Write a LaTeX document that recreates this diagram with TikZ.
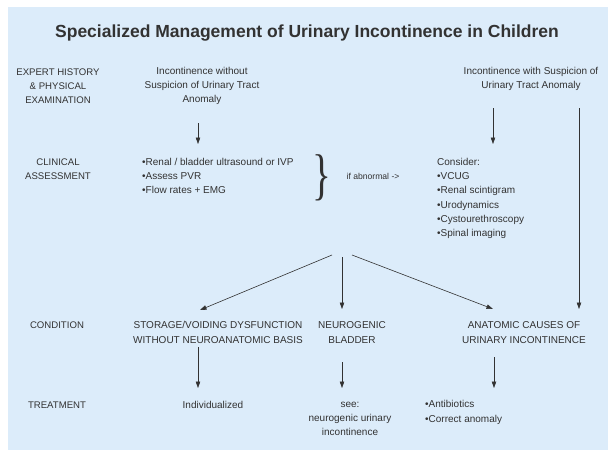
\documentclass[tikz,border=0pt]{standalone}
\usepackage{fontspec}
\setmainfont{Liberation Sans}
\newfontfamily\bracefont{Liberation Serif}
\usetikzlibrary{arrows.meta}
\definecolor{bg}{RGB}{220,236,250}
\definecolor{ink}{RGB}{50,50,50}
\begin{document}
\begin{tikzpicture}[x=1pt,y=-1pt,
  txt/.style={font=\fontsize{10}{14.3}\selectfont, text=ink, inner sep=0pt, align=center},
  lab/.style={font=\fontsize{9.6}{14.3}\selectfont, text=ink, inner sep=0pt, align=center},
  arr/.style={draw=ink, line width=0.6pt, -{Triangle[length=6.5pt,width=4.5pt]}},
  ln/.style={draw=ink, line width=0.6pt}]
\useasboundingbox (0,0) rectangle (608,452);
\fill[bg] (8,7) rectangle (608,450);
% title
\node[inner sep=0pt, text=ink, font=\bfseries\fontsize{17.5}{20}\selectfont] (title) at (307,33)
  {Specialized Management of Urinary Incontinence in Children};
% row labels
\node[lab] (expert) at (58,86) {EXPERT HISTORY\\\& PHYSICAL\\EXAMINATION};
\node[lab] (clin) at (58,169) {CLINICAL\\ASSESSMENT};
\node[lab] (cond) at (57,325) {CONDITION};
\node[lab] (treat) at (57,405) {TREATMENT};
% row 1
\node[txt] (without) at (202,86) {Incontinence without\\Suspicion of Urinary Tract\\Anomaly};
\node[txt] (with) at (531,79) {Incontinence with Suspicion of\\Urinary Tract Anomaly};
% row 2
\node[txt, align=left, anchor=west] (assess) at (142,176)
  {•Renal / bladder ultrasound or IVP\\•Assess PVR\\•Flow rates + EMG};
\node[inner sep=0pt, text=ink, xscale=0.7] (brace) at (322,178) {\bracefont\fontsize{56}{56}\selectfont\}};
\node[txt, font=\fontsize{8.6}{12}\selectfont] (ifab) at (373,176) {if abnormal ->};
\node[txt, align=left, anchor=west] (consider) at (437,198.5)
  {Consider:\\•VCUG\\•Renal scintigram\\•Urodynamics\\•Cystourethroscopy\\•Spinal imaging};
% row 3
\node[txt] (storage) at (218,332.5) {STORAGE/VOIDING DYSFUNCTION\\WITHOUT NEUROANATOMIC BASIS};
\node[txt] (neuro) at (352,332.5) {NEUROGENIC\\BLADDER};
\node[txt] (anat) at (524,332.5) {ANATOMIC CAUSES OF\\URINARY INCONTINENCE};
% row 4
\node[txt] (indiv) at (213,405) {Individualized};
\node[txt] (see) at (350,419) {see:\\neurogenic urinary\\incontinence};
\node[txt, align=left, anchor=west] (abx) at (425,412.5) {•Antibiotics\\•Correct anomaly};
% connector end points
\coordinate (w1) at (198,123); \coordinate (w2) at (198,144);
\coordinate (s1) at (493,108); \coordinate (s2) at (493,144);
\coordinate (l1) at (579,108); \coordinate (l2) at (579,309);
\coordinate (fl) at (332,255); \coordinate (fm) at (342,257); \coordinate (fr) at (352,255);
\coordinate (tl) at (200,310); \coordinate (tm) at (342,309); \coordinate (tr) at (493,309);
\coordinate (d1a) at (198,347); \coordinate (d1b) at (198,388);
\coordinate (d2a) at (342,362); \coordinate (d2b) at (342,388);
\coordinate (d3a) at (494,357); \coordinate (d3b) at (494,388);
% connectors
\draw[arr] (w1) -- (w2);
\draw[arr] (s1) -- (s2);
\draw[arr] (l1) -- (l2);
\draw[arr] (fl) -- (tl);
\draw[arr] (fm) -- (tm);
\draw[arr] (fr) -- (tr);
\draw[arr] (d1a) -- (d1b);
\draw[arr] (d2a) -- (d2b);
\draw[arr] (d3a) -- (d3b);
\end{tikzpicture}
\end{document}
